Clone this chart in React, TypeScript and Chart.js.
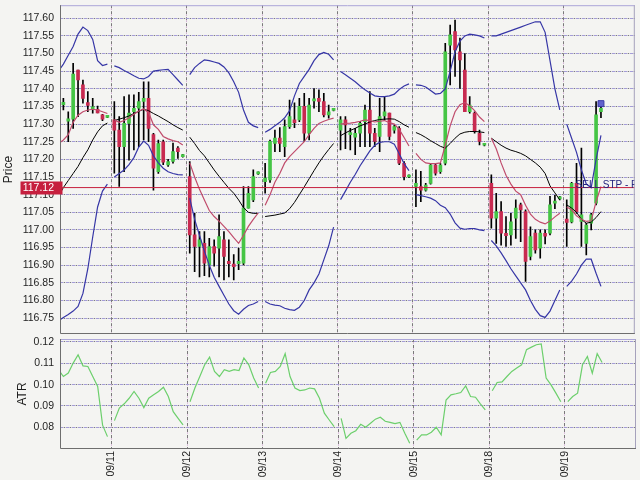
import React, { useEffect, useRef } from 'react';
import { Chart, registerables } from 'chart.js';
Chart.register(...registerables);

// ---------- data ----------
const dayLabels = ['09/11', '09/12', '09/13', '09/14', '09/15', '09/18', '09/19'];
const priceTicks = [116.75, 116.8, 116.85, 116.9, 116.95, 117.0, 117.05, 117.1, 117.15, 117.2, 117.25, 117.3, 117.35, 117.4, 117.45, 117.5, 117.55, 117.6];
const atrTicks = [0.08, 0.09, 0.1, 0.11, 0.12];
const lastPrice = 117.12;
const orderText = 'SELL STP - Pending';
const orderMarkerPrice = 117.358;

// sessions: previous day (partial) then 09/11 ... 09/19
const sessionFirstSlot = [4, 0, 0, 0, 0, 0, 0, 0];

const opens = [
  [117.35, 117.355, 117.308, 117.314, 117.453, 117.411, 117.361, 117.343, 117.342, 117.326, 117.319],
  [117.312, 117.283, 117.236, 117.302, 117.335, 117.345, 117.364, 117.373, 117.27, 117.165, 117.25, 117.184, 117.194, 117.232, 117.208],
  [117.151, 116.986, 116.953, 116.962, 116.901, 116.953, 116.948, 116.972, 116.911, 116.903, 116.904, 116.906, 117.062, 117.085, 117.159],
  [117.137, 117.142, 117.245, 117.26, 117.236, 117.293, 117.312, 117.312, 117.35, 117.274, 117.366, 117.373, 117.364, 117.326, 117.339],
  [117.283, 117.312, 117.27, 117.263, 117.274, 117.307, 117.34, 117.274, 117.265, 117.323, 117.331, 117.283, 117.288, 117.189, 117.15],
  [117.123, 117.123, 117.113, 117.132, 117.184, 117.165, 117.189, 117.524, 117.562, 117.505, 117.453, 117.335, 117.331, 117.274, 117.24],
  [117.132, 117.033, 117.052, 116.99, 116.986, 117.033, 117.071, 117.052, 116.925, 116.991, 116.948, 116.99, 116.991, 117.076, 117.088],
  [117.031, 117.023, 117.132, 117.024, 116.962, 117.019, 117.076, 117.335],
];
const highs = [
  [117.37, 117.373, 117.335, 117.472, 117.453, 117.425, 117.392, 117.373, 117.351, 117.328, 117.323],
  [117.364, 117.321, 117.378, 117.383, 117.383, 117.39, 117.42, 117.42, 117.274, 117.255, 117.255, 117.2, 117.246, 117.236, 117.214],
  [117.194, 117.047, 116.995, 116.995, 116.976, 116.972, 117.043, 116.995, 116.972, 116.93, 116.948, 117.123, 117.123, 117.17, 117.165],
  [117.189, 117.255, 117.283, 117.29, 117.312, 117.368, 117.36, 117.373, 117.387, 117.373, 117.401, 117.397, 117.387, 117.354, 117.345],
  [117.321, 117.321, 117.288, 117.288, 117.307, 117.354, 117.392, 117.288, 117.373, 117.378, 117.331, 117.298, 117.293, 117.194, 117.156],
  [117.17, 117.166, 117.132, 117.189, 117.189, 117.189, 117.529, 117.581, 117.595, 117.544, 117.5, 117.378, 117.335, 117.283, 117.245],
  [117.156, 117.104, 117.08, 117.038, 117.047, 117.085, 117.076, 117.057, 117.009, 117.0, 117.0, 117.0, 117.095, 117.098, 117.095],
  [117.085, 117.135, 117.189, 117.232, 117.019, 117.047, 117.364, 117.35],
];
const lows = [
  [117.33, 117.34, 117.25, 117.288, 117.321, 117.359, 117.335, 117.331, 117.332, 117.31, 117.318],
  [117.161, 117.123, 117.165, 117.198, 117.227, 117.236, 117.255, 117.25, 117.113, 117.16, 117.185, 117.18, 117.189, 117.203, 117.206],
  [116.934, 116.882, 116.867, 116.87, 116.867, 116.897, 116.867, 116.858, 116.867, 116.858, 116.887, 116.901, 117.062, 117.08, 117.157],
  [117.104, 117.135, 117.222, 117.222, 117.208, 117.288, 117.29, 117.307, 117.251, 117.255, 117.345, 117.335, 117.32, 117.317, 117.337],
  [117.227, 117.23, 117.227, 117.213, 117.236, 117.236, 117.236, 117.236, 117.222, 117.312, 117.255, 117.274, 117.185, 117.142, 117.148],
  [117.066, 117.08, 117.11, 117.13, 117.155, 117.16, 117.184, 117.411, 117.435, 117.401, 117.335, 117.331, 117.274, 117.241, 117.238],
  [117.005, 116.962, 116.957, 116.953, 116.957, 116.976, 116.967, 116.854, 116.915, 116.934, 116.92, 116.96, 116.986, 117.06, 117.085],
  [116.953, 117.02, 117.047, 116.953, 116.929, 117.0, 117.071, 117.318],
];
const closes = [
  [117.36, 117.362, 117.315, 117.442, 117.425, 117.373, 117.353, 117.347, 117.332, 117.314, 117.322],
  [117.283, 117.236, 117.302, 117.331, 117.345, 117.364, 117.373, 117.288, 117.175, 117.245, 117.192, 117.194, 117.222, 117.222, 117.212],
  [116.986, 116.953, 116.972, 116.906, 116.953, 116.934, 116.981, 116.925, 116.904, 116.896, 116.911, 117.062, 117.104, 117.151, 117.163],
  [117.147, 117.251, 117.26, 117.245, 117.293, 117.321, 117.304, 117.35, 117.274, 117.354, 117.37, 117.364, 117.326, 117.335, 117.342],
  [117.312, 117.298, 117.274, 117.274, 117.302, 117.34, 117.274, 117.251, 117.321, 117.335, 117.265, 117.293, 117.189, 117.151, 117.153],
  [117.132, 117.113, 117.127, 117.184, 117.161, 117.184, 117.505, 117.553, 117.51, 117.482, 117.335, 117.354, 117.279, 117.251, 117.243],
  [117.033, 117.052, 116.991, 116.984, 117.023, 117.062, 117.057, 116.911, 116.981, 116.943, 116.991, 116.982, 117.071, 117.081, 117.092],
  [117.021, 117.132, 117.052, 117.043, 117.014, 117.043, 117.326, 117.345],
];
const bbUpper = [
  [117.45, 117.47, 117.495, 117.52, 117.555, 117.575, 117.565, 117.54, 117.48, 117.466, 117.47],
  [117.465, 117.46, 117.452, 117.445, 117.437, 117.43, 117.428, 117.435, 117.45, 117.452, 117.454, 117.455, 117.44, 117.425, 117.41],
  [117.44, 117.46, 117.472, 117.482, 117.48, 117.476, 117.472, 117.462, 117.445, 117.42, 117.39, 117.34, 117.305, 117.295, 117.29],
  [117.277, 117.285, 117.295, 117.305, 117.318, 117.338, 117.38, 117.415, 117.435, 117.455, 117.48, 117.497, 117.503, 117.498, 117.482],
  [117.449, 117.44, 117.43, 117.42, 117.408, 117.397, 117.388, 117.38, 117.378, 117.378, 117.38, 117.385, 117.398, 117.408, 117.414],
  [117.411, 117.41, 117.405, 117.395, 117.385, 117.387, 117.4, 117.45, 117.505, 117.535, 117.55, 117.555, 117.553, 117.55, 117.544],
  [117.55, 117.55, 117.555, 117.56, 117.565, 117.57, 117.575, 117.58, 117.585, 117.59, 117.59, 117.56, 117.48, 117.4, 117.34],
  [117.3, 117.26, 117.22, 117.17, 117.13, 117.12, 117.2, 117.268],
];
const bbMiddle = [
  [117.095, 117.12, 117.14, 117.16, 117.18, 117.205, 117.227, 117.255, 117.278, 117.295, 117.303],
  [117.31, 117.314, 117.318, 117.323, 117.33, 117.336, 117.342, 117.338, 117.33, 117.323, 117.315, 117.307, 117.298, 117.29, 117.283],
  [117.263, 117.245, 117.225, 117.21, 117.19, 117.17, 117.152, 117.135, 117.118, 117.104, 117.085, 117.063, 117.05, 117.047, 117.047],
  [117.038, 117.04, 117.042, 117.045, 117.048, 117.06, 117.078, 117.1, 117.122, 117.145, 117.168, 117.19, 117.21, 117.228, 117.245],
  [117.267, 117.275, 117.282, 117.288, 117.295, 117.3, 117.306, 117.31, 117.313, 117.314, 117.315, 117.314, 117.307, 117.298, 117.291],
  [117.276, 117.27, 117.262, 117.253, 117.245, 117.237, 117.232, 117.245, 117.26, 117.272, 117.277, 117.279, 117.279, 117.278, 117.276],
  [117.26, 117.25, 117.24, 117.232, 117.226, 117.222, 117.217, 117.21, 117.2, 117.19, 117.178, 117.16, 117.125, 117.105, 117.085],
  [117.071, 117.062, 117.05, 117.03, 117.019, 117.022, 117.035, 117.052],
];
const bbLower = [
  [116.742, 116.752, 116.76, 116.77, 116.783, 116.82, 116.89, 116.98, 117.065, 117.11, 117.13],
  [117.15, 117.16, 117.17, 117.185, 117.205, 117.235, 117.252, 117.24, 117.21, 117.19, 117.175, 117.165, 117.16, 117.157, 117.156],
  [117.09, 117.03, 116.985, 116.94, 116.9, 116.866, 116.84, 116.815, 116.79, 116.771, 116.761, 116.775, 116.786, 116.79, 116.797],
  [116.797, 116.79, 116.787, 116.785, 116.778, 116.774, 116.772, 116.781, 116.8, 116.83, 116.85, 116.875, 116.915, 116.955, 117.008],
  [117.086, 117.11, 117.135, 117.157, 117.182, 117.203, 117.224, 117.24, 117.248, 117.25, 117.25, 117.243, 117.216, 117.188, 117.168],
  [117.1, 117.097, 117.094, 117.09, 117.083, 117.07, 117.063, 117.045, 117.02, 117.005, 117.002, 117.004, 117.004, 117.0, 116.998],
  [116.97, 116.955, 116.935, 116.913, 116.89, 116.87, 116.85, 116.83, 116.8, 116.775, 116.757, 116.752, 116.77, 116.8, 116.83],
  [116.84, 116.855, 116.875, 116.9, 116.917, 116.917, 116.877, 116.84],
];
const maLine = [
  [117.245, 117.255, 117.27, 117.305, 117.325, 117.335, 117.34, 117.342, 117.34, 117.335, 117.33],
  [117.312, 117.305, 117.31, 117.318, 117.328, 117.337, 117.343, 117.333, 117.298, 117.285, 117.265, 117.258, 117.253, 117.25, 117.241],
  [117.19, 117.15, 117.115, 117.085, 117.055, 117.038, 117.025, 117.01, 116.995, 116.978, 116.962, 116.985, 117.01, 117.03, 117.048],
  [117.07, 117.1, 117.135, 117.16, 117.19, 117.208, 117.222, 117.236, 117.25, 117.27, 117.288, 117.302, 117.308, 117.313, 117.317],
  [117.3, 117.302, 117.303, 117.305, 117.308, 117.312, 117.31, 117.306, 117.308, 117.31, 117.304, 117.3, 117.285, 117.262, 117.238],
  [117.217, 117.2, 117.19, 117.188, 117.188, 117.19, 117.24, 117.295, 117.335, 117.355, 117.361, 117.352, 117.338, 117.32, 117.307],
  [117.26, 117.23, 117.19, 117.155, 117.13, 117.11, 117.1, 117.07, 117.045, 117.03, 117.022, 117.017, 117.025, 117.037, 117.047],
  [117.065, 117.057, 117.04, 117.03, 117.024, 117.026, 117.08, 117.123],
];
const atrValues = [
  [0.107, 0.1038, 0.1054, 0.1101, 0.114, 0.1088, 0.1085, 0.1038, 0.0991, 0.081, 0.0756],
  [0.0831, 0.089, 0.091, 0.0936, 0.0968, 0.0936, 0.0892, 0.0936, 0.0952, 0.0968, 0.0988, 0.0944, 0.0873, 0.0842, 0.0811],
  [0.092, 0.0984, 0.1038, 0.1093, 0.1129, 0.1062, 0.1038, 0.107, 0.1062, 0.107, 0.1066, 0.1125, 0.1093, 0.1031, 0.0984],
  [0.1007, 0.1057, 0.1062, 0.1085, 0.1145, 0.1038, 0.0984, 0.0972, 0.0975, 0.0984, 0.098, 0.0936, 0.0866, 0.0834, 0.0803],
  [0.0842, 0.0748, 0.0772, 0.0784, 0.0814, 0.08, 0.0819, 0.0838, 0.0847, 0.0828, 0.0823, 0.0817, 0.0823, 0.0772, 0.0725],
  [0.074, 0.0764, 0.0764, 0.0777, 0.08, 0.0764, 0.0928, 0.0952, 0.0957, 0.0963, 0.0994, 0.0944, 0.0941, 0.091, 0.0881],
  [0.0971, 0.101, 0.1013, 0.1038, 0.1062, 0.1078, 0.1093, 0.1164, 0.1176, 0.1187, 0.1191, 0.1031, 0.0999, 0.096, 0.092],
  [0.092, 0.0944, 0.096, 0.1093, 0.1132, 0.1054, 0.1145, 0.1104],
];

// ---------- time axis (bar slots, day separators) ----------
const SLOTS_PER_DAY = 15.42;
const SLOT_OFFSET = 0.6;
const X_MIN = -10.51;
const X_MAX = 107.04;
const ORDER_SLOT = 2.4; // order text position inside last session
const dayTicks = dayLabels.map((_, d) => d * SLOTS_PER_DAY);

const slotX = (s: number, j: number) => (s - 1) * SLOTS_PER_DAY + SLOT_OFFSET + sessionFirstSlot[s] + j;

function lineData(series: number[][]) {
  const out: { x: number; y: number | null }[] = [];
  series.forEach((vals, s) => {
    vals.forEach((v, j) => out.push({ x: slotX(s, j), y: v }));
    out.push({ x: s * SLOTS_PER_DAY, y: null });
  });
  return out;
}

const FONT = 'Liberation Sans, Arial, Helvetica, sans-serif';
const UP = '#45c545';
const DOWN = '#c82a50';

function framePlugin(id: string) {
  return {
    id,
    afterDraw(chart: any) {
      const { ctx, chartArea: a } = chart;
      ctx.save();
      ctx.lineWidth = 1;
      ctx.strokeStyle = '#aca6d8';
      ctx.beginPath();
      ctx.moveTo(a.left, a.top + 0.5);
      ctx.lineTo(a.right, a.top + 0.5);
      ctx.stroke();
      ctx.strokeStyle = '#a6a2bc';
      ctx.beginPath();
      ctx.moveTo(a.right - 0.5, a.top);
      ctx.lineTo(a.right - 0.5, a.bottom);
      ctx.stroke();
      ctx.strokeStyle = '#6e6e6e';
      ctx.beginPath();
      ctx.moveTo(a.left + 0.5, a.top);
      ctx.lineTo(a.left + 0.5, a.bottom - 0.5);
      ctx.lineTo(a.right, a.bottom - 0.5);
      ctx.stroke();
      ctx.restore();
    },
  };
}

function xScale(showLabels: boolean, height: number, color: string, dash: number[], dashOffset: number) {
  return {
    type: 'linear',
    position: 'bottom',
    min: X_MIN,
    max: X_MAX,
    offset: false,
    afterBuildTicks: (s: any) => {
      s.ticks = dayTicks.map((v) => ({ value: v }));
    },
    afterFit: (s: any) => {
      s.height = height;
      s.paddingLeft = 0;
      s.paddingRight = 0;
    },
    grid: { color, lineWidth: 1, drawTicks: false, offset: false },
    border: { display: false, dash, dashOffset },
    ticks: {
      display: showLabels,
      autoSkip: false,
      minRotation: 90,
      maxRotation: 90,
      padding: 2,
      color: '#1e1e1e',
      font: { family: FONT, size: 10.5 },
      callback: (_v: any, i: number) => dayLabels[i],
    },
  };
}

function yScale(min: number, max: number, ticks: number[], width: number, title: string | null, color: string, dash: number[], dashOffset: number) {
  return {
    type: 'linear',
    position: 'left',
    min,
    max,
    afterBuildTicks: (s: any) => {
      s.ticks = ticks.map((v) => ({ value: v }));
    },
    afterFit: (s: any) => {
      s.width = width;
      s.paddingTop = 0;
      s.paddingBottom = 0;
    },
    grid: { color, lineWidth: 1, drawTicks: false },
    border: { display: false, dash, dashOffset },
    ticks: {
      display: title !== null,
      padding: 6,
      color: '#1e1e1e',
      font: { family: FONT, size: 10.5 },
      callback: (v: any) => Number(v).toFixed(2),
    },
    title: {
      display: title !== null,
      text: title || '',
      padding: 0,
      color: '#1e1e1e',
      font: { family: FONT, size: 12 },
    },
  };
}

export default function App() {
  const mainRef = useRef<HTMLCanvasElement>(null);
  const atrRef = useRef<HTMLCanvasElement>(null);

  useEffect(() => {
    const wicks: any[] = [];
    const bodies: any[] = [];
    const bodyColors: string[] = [];
    opens.forEach((sess, s) => {
      sess.forEach((o, j) => {
        const x = slotX(s, j);
        const c = closes[s][j];
        wicks.push({ x, y: [lows[s][j], highs[s][j]] });
        bodies.push({ x, y: [o, c] });
        bodyColors.push(c >= o ? UP : DOWN);
      });
    });
    const lastS = opens.length - 1;
    const markerX = slotX(lastS, opens[lastS].length - 1);
    const orderX = (lastS - 1) * SLOTS_PER_DAY + ORDER_SLOT;

    const pricePlugin = {
      id: 'priceTag',
      afterDatasetsDraw(chart: any) {
        const { ctx, chartArea: a, scales } = chart;
        const y = scales.y.getPixelForValue(lastPrice);
        ctx.save();
        ctx.beginPath();
        ctx.rect(a.left, a.top, a.right - a.left, a.bottom - a.top);
        ctx.clip();
        ctx.fillStyle = '#22227e';
        ctx.font = `10px ${FONT}`;
        ctx.textBaseline = 'alphabetic';
        ctx.textAlign = 'left';
        ctx.fillText(orderText, scales.x.getPixelForValue(orderX), y + 0.5);
        ctx.restore();
      },
      afterDraw(chart: any) {
        const { ctx, scales } = chart;
        const y = Math.round(scales.y.getPixelForValue(lastPrice));
        ctx.save();
        ctx.fillStyle = '#c61f3e';
        ctx.fillRect(20.5, y - 6.5, 42, 13);
        ctx.fillStyle = '#ffffff';
        ctx.font = `10.5px ${FONT}`;
        ctx.textAlign = 'right';
        ctx.textBaseline = 'middle';
        ctx.fillText(lastPrice.toFixed(2), 54, y + 0.5);
        ctx.restore();
      },
    };

    const H_PURPLE = '#a49cd8';
    const H_DARK = '#7c7c84';
    const V_GRAY = '#7a7a7a';
    const V_PINK = '#c890cc';

    const main = new Chart(mainRef.current as HTMLCanvasElement, {
      type: 'bar',
      data: {
        datasets: [
          { type: 'bar', data: wicks, backgroundColor: '#000000', barThickness: 1, grouped: false, order: 6 } as any,
          { type: 'bar', data: bodies, backgroundColor: bodyColors, barThickness: 3, minBarLength: 2, grouped: false, order: 5 } as any,
          { type: 'line', data: lineData(bbUpper), borderColor: '#3636a6', borderWidth: 1.2, pointRadius: 0, spanGaps: false, order: 4 },
          { type: 'line', data: lineData(bbLower), borderColor: '#3636a6', borderWidth: 1.2, pointRadius: 0, spanGaps: false, order: 4 },
          { type: 'line', data: lineData(bbMiddle), borderColor: '#000000', borderWidth: 1, pointRadius: 0, spanGaps: false, order: 4 },
          { type: 'line', data: lineData(maLine), borderColor: '#c04c6c', borderWidth: 1.2, pointRadius: 0, spanGaps: false, order: 3 },
          { type: 'line', data: [{ x: X_MIN, y: lastPrice }, { x: X_MAX, y: lastPrice }], borderColor: '#c61f3e', borderWidth: 1, pointRadius: 0, order: 2 },
          { type: 'line', data: [{ x: markerX, y: orderMarkerPrice }], showLine: false, pointStyle: 'rect', pointRadius: 4.2, pointBackgroundColor: '#6262cc', pointBorderColor: '#3a3aa6', pointBorderWidth: 1, order: 1 },
        ] as any,
      },
      options: {
        responsive: false,
        animation: false,
        devicePixelRatio: 1,
        events: [],
        layout: { padding: { left: 1.5, right: 4, top: 5, bottom: 6 } },
        plugins: { legend: { display: false }, tooltip: { enabled: false } },
        scales: {
          x: xScale(false, 0, V_GRAY, [3, 3], 0) as any,
          x2: xScale(false, 0, V_PINK, [1, 5], -3.5) as any,
          y: yScale(116.705, 117.637, priceTicks, 58.5, 'Price', H_PURPLE, [3, 3], 0) as any,
          y2: yScale(116.705, 117.637, priceTicks, 0, null, H_DARK, [1.5, 4.5], -3.7) as any,
        },
      },
      plugins: [framePlugin('frameMain'), pricePlugin],
    });

    const atr = new Chart(atrRef.current as HTMLCanvasElement, {
      type: 'line',
      data: {
        datasets: [
          { data: lineData(atrValues), borderColor: '#6ccf6c', borderWidth: 1.2, pointRadius: 0, spanGaps: false },
        ] as any,
      },
      options: {
        responsive: false,
        animation: false,
        devicePixelRatio: 1,
        events: [],
        layout: { padding: { left: 15.3, right: 4, top: 4, bottom: 0 } },
        plugins: { legend: { display: false }, tooltip: { enabled: false } },
        scales: {
          x: xScale(true, 31, V_GRAY, [3, 3], 0) as any,
          x2: xScale(false, 0, V_PINK, [1, 5], -3.5) as any,
          y: yScale(0.0698, 0.1214, atrTicks, 44.7, 'ATR', H_PURPLE, [3, 3], 0) as any,
          y2: yScale(0.0698, 0.1214, atrTicks, 0, null, H_DARK, [1.5, 4.5], -3.7) as any,
        },
      },
      plugins: [framePlugin('frameAtr')],
    });

    return () => {
      main.destroy();
      atr.destroy();
    };
  }, []);

  return (
    <div style={{ position: 'fixed', left: 0, top: 0, width: 640, height: 480, background: '#f4f4f2', overflow: 'hidden' }}>
      <canvas ref={mainRef} width={640} height={340} style={{ position: 'absolute', left: 0, top: 0 }} />
      <canvas ref={atrRef} width={640} height={145} style={{ position: 'absolute', left: 0, top: 335 }} />
    </div>
  );
}
